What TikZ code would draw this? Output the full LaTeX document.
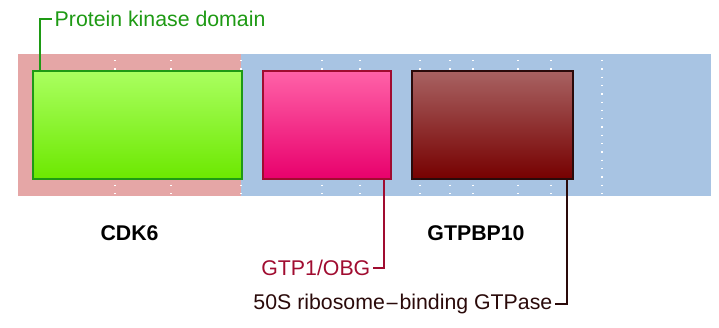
\documentclass[tikz,border=0pt]{standalone}
\usepackage{fontspec}
\setmainfont{Liberation Sans}
\usepackage{tikz}
\usetikzlibrary{positioning,calc}

\definecolor{cdkbg}{HTML}{E5A6A6}
\definecolor{gtpbg}{HTML}{A8C4E3}
\definecolor{kinline}{HTML}{1E9A14}
\definecolor{kintop}{HTML}{AAFF60}
\definecolor{kinbot}{HTML}{6CE800}
\definecolor{obgline}{HTML}{A00C30}
\definecolor{obgtop}{HTML}{FF62A8}
\definecolor{obgbot}{HTML}{E8006C}
\definecolor{ribline}{HTML}{2A0A0A}
\definecolor{ribtop}{HTML}{A86262}
\definecolor{ribbot}{HTML}{760000}

\begin{document}
\begin{tikzpicture}[
    x=1pt,y=-1pt,
    font=\fontsize{21.3}{25}\selectfont,
    domainbox/.style={draw,line width=1.5pt,inner sep=0pt,minimum height=108pt},
    dotline/.style={white,line width=1.3pt,dash pattern=on 1.3pt off 7pt},
    lead/.style={line width=1.7pt},
    gene/.style={font=\fontsize{21.3}{25}\selectfont\bfseries},
    lbl/.style={inner sep=2.5pt}
  ]
    \useasboundingbox (0,0) rectangle (719,327);

    % protein bars
    \fill[cdkbg] (18,54) rectangle (241,196);
    \fill[gtpbg] (241,54) rectangle (711,196);
    \foreach \x in {115,171,241,322,360,420,450,473,518,551,602}
      \draw[dotline] (\x,60) -- (\x,196);

    % domains
    \node[domainbox,draw=kinline,top color=kintop,bottom color=kinbot,minimum width=209pt] (kinase) at (137.5,125) {};
    \node[domainbox,draw=obgline,top color=obgtop,bottom color=obgbot,minimum width=128pt] (obg) at (327,125) {};
    \node[domainbox,draw=ribline,top color=ribtop,bottom color=ribbot,minimum width=161pt] (ribo) at (492.5,125) {};

    % gene names
    \node[gene] (cdk6) at (129.5,233) {CDK6};
    \node[gene] (gtpbp10) at (476,233) {GTPBP10};

    % domain labels
    \node[lbl,anchor=west,text=kinline] (kinlbl) at (52,19) {Protein kinase domain};
    \node[lbl,anchor=east,text=obgline] (obglbl) at (373,268) {GTP1/OBG};
    \node[lbl,anchor=east,text=ribline] (riblbl) at (555,304) {50S ribosome{\fontspec{DejaVu Sans}\fontsize{17.5}{20}\selectfont−}binding GTPase};

    \draw[lead,kinline] ($(kinase.north west)+(8,0)$) |- (kinlbl.west);
    \draw[lead,obgline] ($(obg.south east)+(-8,0)$) |- (obglbl.east);
    \draw[lead,ribline] ($(ribo.south east)+(-7,0)$) |- (riblbl.east);
\end{tikzpicture}
\end{document}
